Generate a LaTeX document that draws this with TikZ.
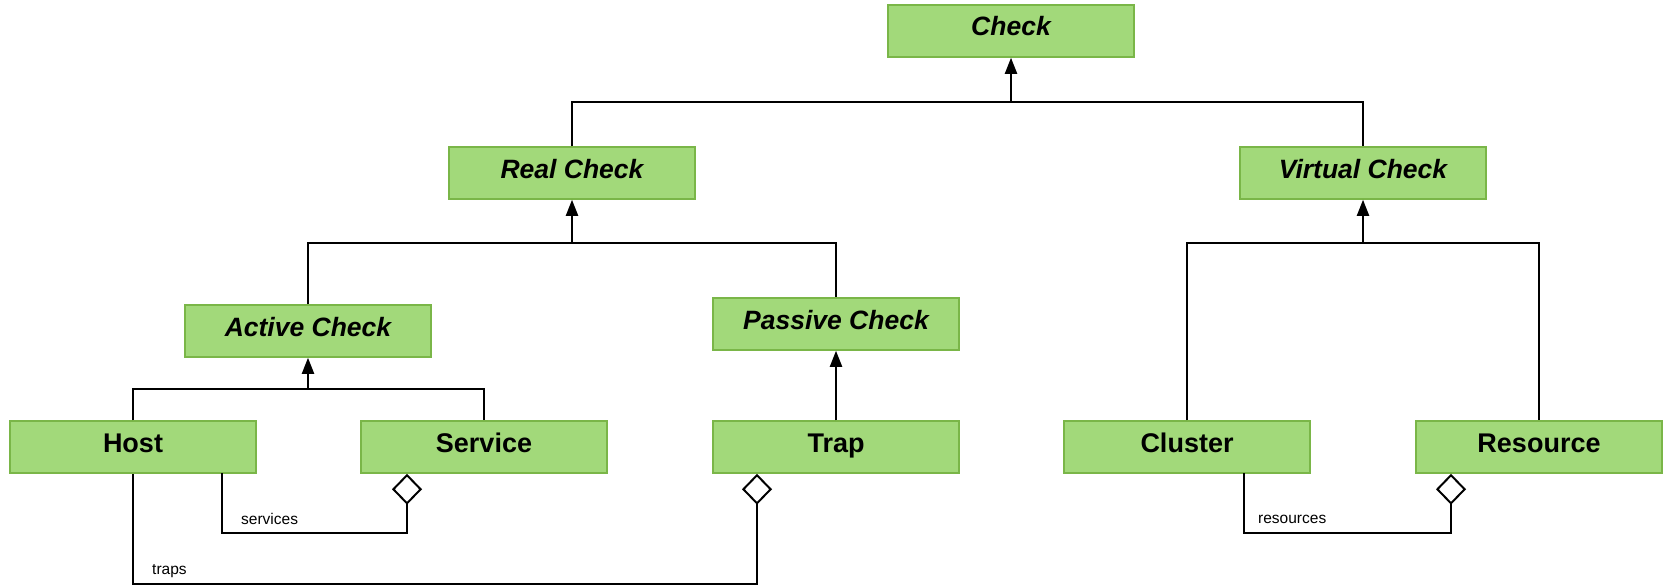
\documentclass[tikz,border=0pt]{standalone}
\usepackage{fontspec}
\setmainfont{Liberation Sans}
\usetikzlibrary{arrows.meta}
\definecolor{boxfill}{RGB}{162,217,122}
\definecolor{boxline}{RGB}{122,182,72}
\begin{document}
\begin{tikzpicture}[x=1pt,y=-1pt,
  cls/.style={draw=boxline,fill=boxfill,line width=1.5pt,minimum width=246pt,minimum height=52pt,inner sep=0pt,text height=17pt,text depth=7pt,font=\fontsize{27}{30}\selectfont\bfseries},
  abs/.style={cls,font=\fontsize{26.5}{30}\selectfont\bfseries\itshape},
  conn/.style={draw=black,line width=2pt},
  gen/.style={conn,-{Triangle[length=16pt,width=12pt]}},
  aggr/.style={conn,{Diamond[open,length=31pt,width=30pt,line width=2pt]}-},
  lbl/.style={font=\fontsize{15.5}{18}\selectfont,anchor=west,inner sep=0pt}]
\useasboundingbox (0,0) rectangle (1667,586);
\node[abs] (check) at (1011,31) {Check};
\node[abs] (real) at (572,173) {Real Check};
\node[abs] (virt) at (1363,173) {Virtual Check};
\node[abs] (active) at (308,331) {Active Check};
\node[abs] (passive) at (836,324) {Passive Check};
\node[cls] (host) at (133,447) {Host};
\node[cls] (serv) at (484,447) {Service};
\node[cls] (trap) at (836,447) {Trap};
\node[cls] (clus) at (1187,447) {Cluster};
\node[cls] (res) at (1539,447) {Resource};
% generalization
\coordinate (b1) at (1011,102);
\draw[conn] (real.north) |- (b1) -| (virt.north);
\draw[gen] (b1) -- (check.south);
\coordinate (b2) at (572,243);
\draw[conn] (active.north) |- (b2) -| (passive.north);
\draw[gen] (b2) -- (real.south);
\coordinate (b3) at (1363,243);
\draw[conn] (clus.north) |- (b3) -| (res.north);
\draw[gen] (b3) -- (virt.south);
\coordinate (b4) at (308,389);
\draw[conn] (host.north) |- (b4) -| (serv.north);
\draw[gen] (b4) -- (active.south);
\draw[gen] (trap.north) -- (passive.south);
% aggregations
\coordinate (hs) at (222,473);
\coordinate (sb) at (407,533);
\draw[aggr] (sb |- serv.south) -- (sb) -| (hs);
\coordinate (tb) at (757,584);
\draw[aggr] (tb |- trap.south) -- (tb) -| (host.south);
\coordinate (cs) at (1244,473);
\coordinate (rb) at (1451,533);
\draw[aggr] (rb |- res.south) -- (rb) -| (cs);
% labels
\node[lbl] (ls) at (241,519) {services};
\node[lbl] (lt) at (152,571) {traps};
\node[lbl] (lr) at (1258,519) {resources};
\end{tikzpicture}
\end{document}
